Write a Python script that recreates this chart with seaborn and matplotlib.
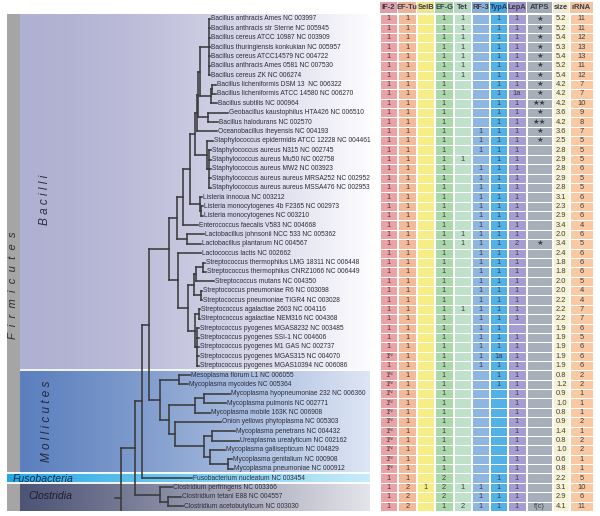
import numpy as np
import matplotlib
matplotlib.use("Agg")
import matplotlib.pyplot as plt
from matplotlib.colors import ListedColormap
from matplotlib.collections import LineCollection
import seaborn as sns

TAXA = [
    "Bacillus anthracis Ames NC 003997", "Bacillus anthracis str Sterne NC 005945",
    "Bacillus cereus ATCC 10987 NC 003909", "Bacillus thuringiensis konkukian NC 005957",
    "Bacillus cereus ATCC14579 NC 004722", "Bacillus anthracis Ames 0581 NC 007530",
    "Bacillus cereus ZK NC 006274", "Bacillus licheniformis DSM 13  NC 006322",
    "Bacillus licheniformis ATCC 14580 NC 006270", "Bacillus subtilis NC 000964",
    "Geobacillus kaustophilus HTA426 NC 006510", "Bacillus halodurans NC 002570",
    "Oceanobacillus iheyensis NC 004193", "Staphylococcus epidermidis ATCC 12228 NC 004461",
    "Staphylococcus aureus N315 NC 002745", "Staphylococcus aureus Mu50 NC 002758",
    "Staphylococcus aureus MW2 NC 003923", "Staphylococcus aureus aureus MRSA252 NC 002952",
    "Staphylococcus aureus aureus MSSA476 NC 002953", "Listeria innocua NC 003212",
    "Listeria monocytogenes 4b F2365 NC 002973", "Listeria monocytogenes NC 003210",
    "Enterococcus faecalis V583 NC 004668", "Lactobacillus johnsonii NCC 533 NC 005362",
    "Lactobacillus plantarum NC 004567", "Lactococcus lactis NC 002662",
    "Streptococcus thermophilus LMG 18311 NC 006448", "Streptococcus thermophilus CNRZ1066 NC 006449",
    "Streptococcus mutans NC 004350", "Streptococcus pneumoniae R6 NC 003098",
    "Streptococcus pneumoniae TIGR4 NC 003028", "Streptococcus agalactiae 2603 NC 004116",
    "Streptococcus agalactiae NEM316 NC 004368", "Streptococcus pyogenes MGAS8232 NC 003485",
    "Streptococcus pyogenes SSI-1 NC 004606", "Streptococcus pyogenes M1 GAS NC 002737",
    "Streptococcus pyogenes MGAS315 NC 004070", "Streptococcus pyogenes MGAS10394 NC 006086",
    "Mesoplasma florum L1 NC 006055", "Mycoplasma mycoides NC 005364",
    "Mycoplasma hyopneumoniae 232 NC 006360", "Mycoplasma pulmonis NC 002771",
    "Mycoplasma mobile 163K NC 006908", "Onion yellows phytoplasma NC 005303",
    "Mycoplasma penetrans NC 004432", "Ureaplasma urealyticum NC 002162",
    "Mycoplasma gallisepticum NC 004829", "Mycoplasma genitalium NC 000908",
    "Mycoplasma pneumoniae NC 000912", "Fusobacterium nucleatum NC 003454",
    "Clostridium perfringens NC 003366", "Clostridium tetani E88 NC 004557",
    "Clostridium acetobutylicum NC 003030",
]

# tip depth of each taxon (distance from root)
TIP_DEPTH = [
    89.5, 89.5, 89.5, 89.5, 89.5, 89.5, 89.5, 95.5, 95.5, 96.0,
    107.5, 97.5, 96.0, 92.0, 90.5, 90.5, 90.5, 90.5, 90.5, 81.0,
    82.0, 82.5, 77.0, 83.5, 80.0, 80.0, 84.0, 85.0, 93.0, 81.0,
    81.5, 79.5, 79.5, 78.0, 78.0, 78.0, 78.0, 78.0, 69.5, 67.0,
    109.5, 105.0, 89.5, 100.5, 114.0, 118.0, 104.0, 111.0, 112.0, 71.0,
    51.0, 60.0, 62.0,
]

# internal nodes: name -> (depth, children top to bottom); ints are taxon rows
NODES = {
    "cereus": (88.0, [1, 2, 3, 4, 5, 6, 7]),
    "lich": (91.5, [8, 9]),
    "subt": (90.5, ["lich", 10]),
    "geo": (87.5, [11, 12]),
    "bac1": (79.5, ["cereus", "subt"]),
    "bac2": (77.5, ["bac1", "geo"]),
    "bac3": (76.0, ["bac2", 13]),
    "aureus": (88.5, [15, 16, 17, 18, 19]),
    "staph": (86.0, [14, "aureus"]),
    "bacl1": (74.0, ["bac3", "staph"]),
    "lmono": (80.5, [21, 22]),
    "list": (79.5, [20, "lmono"]),
    "bacl2": (69.5, ["bacl1", "list"]),
    "bacl3": (62.0, ["bacl2", 23]),
    "lacto": (66.0, [24, 25]),
    "bacl4": (56.0, ["bacl3", "lacto"]),
    "therm": (82.0, [27, 28]),
    "therm_mut": (75.5, ["therm", 29]),
    "pneu": (80.0, [30, 31]),
    "strep1": (73.5, ["therm_mut", "pneu"]),
    "agal": (78.0, [32, 33]),
    "pyog": (76.0, [34, 35, 36, 37, 38]),
    "strep2": (74.0, ["agal", "pyog"]),
    "strep": (67.0, ["strep1", "strep2"]),
    "lactococ": (57.0, [26, "strep"]),
    "bacilli": (48.5, ["bacl4", "lactococ"]),
    "myc1": (58.0, [39, 40]),
    "hyo": (83.0, [41, 42]),
    "hyo_mob": (74.5, ["hyo", 43]),
    "pen": (91.5, [45, 46]),
    "gen": (107.0, [48, 49]),
    "gal": (89.5, [47, "gen"]),
    "myc5": (83.0, ["pen", "gal"]),
    "myc4": (54.5, [44, "myc5"]),
    "myc2": (48.0, ["hyo_mob", "myc4"]),
    "mollicutes": (39.5, ["myc1", "myc2"]),
    "bac_mol": (28.0, ["bacilli", "mollicutes"]),
    "with_fuso": (21.0, ["bac_mol", 50]),
    "clos2": (47.0, [52, 53]),
    "clostridia": (39.5, [51, "clos2"]),
    "firm": (14.5, ["with_fuso", "clostridia"]),
    "root": (0.0, ["firm", "outgroup"]),
}
OUTGROUP_ROW = 57.5     # outgroup cut off below the figure
OUTGROUP_DEPTH = 20.0
ROOT_STEM = 5.5

# table columns, one value per taxon row
IF2 = ["1", "1", "1", "1", "1", "1", "1", "1", "1", "1", "1", "1", "1",
       "1", "1", "1", "1", "1", "1", "1", "1", "1", "1", "1", "1", "1",
       "1", "1", "1", "1", "1", "1", "1", "1", "1", "1", "1ᴺ", "1", "1ᴺ",
       "1ᴺ", "1ᴺ", "1ᴺ", "1ᴺ", "1ᴺ", "1ᴺ", "1ᴺ", "1ᴺ", "1ᴺ", "1ᴺ", "1", "1", "1", "1"]
EF_TU = ["1", "1", "1", "1", "1", "1", "1", "1", "1", "1", "1", "1", "1",
         "1", "1", "1", "1", "1", "1", "1", "1", "1", "1", "1", "1", "1",
         "1", "1", "1", "1", "1", "1", "1", "1", "1", "1", "1", "1", "1",
         "1", "1", "1", "1", "1", "1", "1", "1", "1", "1", "1", "2", "2", "2"]
SELB = ["", "", "", "", "", "", "", "", "", "", "", "", "",
        "", "", "", "", "", "", "", "", "", "", "", "", "",
        "", "", "", "", "", "", "", "", "", "", "", "", "",
        "", "", "", "", "", "", "", "", "", "", "", "1", "", ""]
EF_G = ["1", "1", "1", "1", "1", "1", "1", "1", "1", "1", "1", "1", "1",
        "1", "1", "1", "1", "1", "1", "1", "1", "1", "1", "1", "1", "1",
        "1", "1", "1", "1", "1", "1", "1", "1", "1", "1", "1", "1", "1",
        "1", "1", "1", "1", "1", "1", "1", "1", "1", "1", "2", "2", "2", "1"]
TET = ["1", "1", "1", "1", "1", "1", "1", "", "", "", "", "", "",
       "", "", "1", "", "", "", "", "", "", "", "1", "1", "",
       "", "", "", "", "", "1", "", "", "", "", "", "", "",
       "", "", "", "", "", "", "", "", "", "", "", "1", "", "2"]
RF3 = ["", "", "", "", "", "", "", "", "", "", "", "", "1",
       "1", "1", "", "1", "1", "1", "1", "1", "1", "1", "1", "1", "1",
       "1", "1", "1", "1", "1", "1", "1", "1", "1", "1", "1", "1", "",
       "", "", "", "", "", "", "", "", "", "", "", "1", "1", "1"]
TYPA = ["1", "1", "1", "1", "1", "1", "1", "1", "1", "1", "1", "1", "1",
        "1", "1", "1", "1", "1", "1", "1", "1", "1", "1", "1", "1", "1",
        "1", "1", "1", "1", "1", "1", "1", "1", "1", "1", "1a", "1", "1",
        "1", "", "", "", "", "", "", "", "", "", "1", "1", "1", "1"]
LEPA = ["1", "1", "1", "1", "1", "1", "1", "1", "1a", "1", "1", "1", "1",
        "1", "1", "1", "1", "1", "1", "1", "1", "1", "1", "1", "2", "1",
        "1", "1", "1", "1", "1", "1", "1", "", "1", "1", "1", "1", "1",
        "1", "1", "1", "1", "1", "1", "1", "1", "1", "1", "1", "1", "1", "1"]
ATPS = ["★", "★", "★", "★", "★", "★", "★", "★", "★", "★★", "★", "★★", "★",
        "★", "", "", "", "", "", "", "", "", "", "", "★", "",
        "", "", "", "", "", "", "", "", "", "", "", "", "",
        "", "", "", "", "", "", "", "", "", "", "", "", "", "f(c)"]
SIZE = ["5.2", "5.2", "5.4", "5.3", "5.4", "5.2", "5.4", "4.2", "4.2", "4.2", "3.6", "4.2", "3.6",
        "2.5", "2.8", "2.9", "2.8", "2.9", "2.8", "3.1", "2.3", "2.9", "3.4", "2.0", "3.4", "2.4",
        "1.8", "1.8", "2.0", "2.0", "2.2", "2.2", "2.2", "1.9", "1.9", "1.9", "1.9", "1.9", "0.8",
        "1.2", "0.9", "1.0", "0.8", "0.9", "1.4", "0.8", "1.0", "0.6", "0.8", "2.2", "3.1", "2.9", "4.1"]
RRNA = ["11", "11", "12", "13", "13", "11", "12", "7", "7", "10", "9", "8", "7",
        "5", "5", "5", "6", "5", "5", "6", "6", "6", "4", "6", "5", "6",
        "6", "6", "5", "4", "4", "7", "7", "6", "5", "6", "6", "6", "2",
        "2", "1", "1", "1", "2", "1", "2", "2", "1", "1", "5", "10", "6", "11"]

COLUMNS = ["IF-2", "EF-Tu", "SelB", "EF-G", "Tet", "RF-3", "TypA", "LepA", "ATPS", "size", "rRNA"]
COLUMN_VALUES = [IF2, EF_TU, SELB, EF_G, TET, RF3, TYPA, LEPA, ATPS, SIZE, RRNA]
COL_WIDTH_PX = [18.3, 19.0, 17.7, 19.0, 17.7, 18.3, 18.3, 18.4, 26.6, 16.7, 24.0]
BODY_COLORS = ["#eba2a7", "#f2ba98", "#f6ed86", "#abd8ab", "#bfe1c9", "#8db6e1",
               "#52b2e8", "#a69dd3", "#a7b0ba", "#f6f1d0", "#f8c9a2"]
HEAD_COLORS = ["#dba0aa", "#e8b49e", "#efe48e", "#a6d1a9", "#b9d9c3", "#8aaed6",
               "#4aa6dc", "#9d93c8", "#a3abb5", "#efead0", "#f1c4a2"]

# clade panels: label, first row, last row
CLADES = [("Bacilli", 1, 38), ("Mollicutes", 39, 49), ("Fusobacteria", 50, 50), ("Clostridia", 51, 53)]
PANEL_COLORS = {
    "Bacilli": ((176, 176, 210), (253, 253, 255), 1.6),
    "Mollicutes": ((92, 128, 190), (222, 230, 244), 1.2),
    "Fusobacteria": ((36, 168, 226), (200, 236, 250), 1.0),
    "Clostridia": ((78, 84, 118), (228, 228, 234), 1.1),
}

sns.set_theme(style="white")
plt.rcParams["font.family"] = ["Liberation Sans", "DejaVu Sans"]

W, H = 600, 516
fig = plt.figure(figsize=(W / 100, H / 100), dpi=100)
fig.patch.set_facecolor("white")

TOP, BOTTOM = 14.3, 510.9
X_MIN, X_MAX = -113.5, 249.5
STRIP_R = -100.5

ax = fig.add_axes([7 / W, (H - BOTTOM) / H, 363 / W, (BOTTOM - TOP) / H])
ax.set_axis_off()


def band(x0, x1, r0, r1, name):
    c0, c1, pw = PANEL_COLORS[name]
    t = np.linspace(0, 1, 256) ** pw
    rgb = (np.outer(1 - t, c0) + np.outer(t, c1)) / 255.0
    ax.imshow(rgb[None, :, :], extent=(x0, x1, r1, r0), aspect="auto",
              interpolation="bilinear", zorder=0)


# grey Firmicutes strip
for name, r0, r1 in CLADES:
    if name != "Fusobacteria":
        ax.fill_betweenx([r0 - 0.5, r1 + 0.5], X_MIN, STRIP_R, color="#a5a5a5", lw=0, zorder=0)
for name, r0, r1 in CLADES:
    x0 = X_MIN if name == "Fusobacteria" else STRIP_R
    band(x0, X_MAX, r0 - 0.5, r1 + 0.5, name)
ax.hlines([38.5], STRIP_R, X_MAX, color="white", lw=1.3, zorder=1)
ax.hlines([49.5, 50.5], X_MIN, X_MAX, color="white", lw=1.3, zorder=1)

ax.text(-75.5, 20.3, "B a c i l l i", rotation=90, ha="center", va="center",
        fontsize=8.5, style="italic", color="#2e2e3e")
ax.text(-73.8, 43.9, "M o l l i c u t e s", rotation=90, ha="center", va="center",
        fontsize=8.5, style="italic", color="#23283a")
ax.text(-107.0, 29.4, "F  i  r  m  i  c  u  t  e  s", rotation=90, ha="center", va="center",
        fontsize=8, style="italic", color="#2a2a2a")
ax.text(-107.5, 50.05, "Fusobacteria", ha="left", va="center",
        fontsize=7.6, style="italic", color="#142850")
ax.text(-92.5, 51.9, "Clostridia", ha="left", va="center",
        fontsize=7.6, style="italic", color="#1c1c2c")


def node_y(key):
    if isinstance(key, int):
        return float(key)
    if key == "outgroup":
        return OUTGROUP_ROW
    kids = NODES[key][1]
    return (node_y(kids[0]) + node_y(kids[-1])) / 2


def node_x(key):
    if isinstance(key, int):
        return TIP_DEPTH[key - 1]
    if key == "outgroup":
        return OUTGROUP_DEPTH
    return NODES[key][0]


segs = []
for key, (depth, kids) in NODES.items():
    ys = [node_y(k) for k in kids]
    segs.append([(depth, min(ys)), (depth, max(ys))])
    for k, yk in zip(kids, ys):
        segs.append([(depth, yk), (node_x(k), yk)])
ry = node_y("root")
segs.append([(-ROOT_STEM, ry), (0.0, ry)])
ax.add_collection(LineCollection(segs, colors="#3a3a3a", linewidths=1.15,
                                 capstyle="projecting", zorder=3))

for i, name in enumerate(TAXA):
    ax.text(TIP_DEPTH[i] + 1.3, i + 1, name, ha="left", va="center",
            fontsize=4.75, color="#2d2d3a", zorder=4)

ax.set_xlim(X_MIN, X_MAX)
ax.set_ylim(53.5, 0.5)

# table: one heatmap column per factor
x = 380.0
for j, col in enumerate(COLUMNS):
    w = COL_WIDTH_PX[j]
    body = fig.add_axes([x / W, (H - BOTTOM) / H, (w - 0.9) / W, (BOTTOM - TOP) / H])
    vals = np.array(COLUMN_VALUES[j], dtype=object)
    sns.heatmap(np.zeros((len(vals), 1)), annot=vals.reshape(-1, 1), fmt="",
                cmap=ListedColormap([BODY_COLORS[j]]), vmin=0, vmax=1, cbar=False,
                linewidths=0.45, linecolor="white", xticklabels=False, yticklabels=False,
                annot_kws={"fontsize": 5.4, "color": "#3e3e46"}, ax=body)
    head = fig.add_axes([x / W, (H - 13.3) / H, (w - 0.9) / W, 11.6 / H])
    sns.heatmap(np.zeros((1, 1)), annot=np.array([[col]], dtype=object), fmt="",
                cmap=ListedColormap([HEAD_COLORS[j]]), vmin=0, vmax=1, cbar=False,
                linewidths=0, xticklabels=False, yticklabels=False,
                annot_kws={"fontsize": 5.4, "fontweight": "bold",
                           "color": "#1f3a66" if col == "TypA" else "#3a3a48"}, ax=head)
    x += w

fig.savefig("out.png", dpi=100, facecolor="white")
